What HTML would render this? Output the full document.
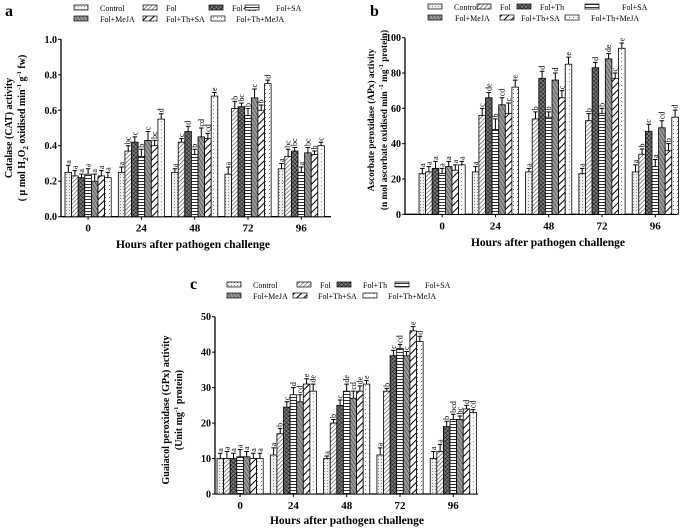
<!DOCTYPE html>
<html><head><meta charset="utf-8">
<style>
body{margin:0;background:#fff;width:685px;height:529px;overflow:hidden}
svg{display:block}
text{font-family:"Liberation Serif","DejaVu Serif",serif}
</style></head>
<body>
<svg id="fig" width="685" height="529" viewBox="0 0 685 529">
<defs>
<pattern id="p0" width="3" height="3" patternUnits="userSpaceOnUse"><rect width="3" height="3" fill="#eee"/><rect x="0" y="0" width="1" height="1" fill="#888"/></pattern>
<pattern id="p1" width="3" height="3" patternUnits="userSpaceOnUse" patternTransform="rotate(45)"><rect width="3" height="3" fill="#fff"/><line x1="0" y1="0" x2="0" y2="3" stroke="#444" stroke-width="1.2"/></pattern>
<pattern id="p2" width="3" height="3" patternUnits="userSpaceOnUse" patternTransform="rotate(45)"><rect width="3" height="3" fill="#777"/><line x1="0" y1="0" x2="0" y2="3" stroke="#111" stroke-width="1"/><line x1="0" y1="0" x2="3" y2="0" stroke="#111" stroke-width="1"/></pattern>
<pattern id="p3" width="3" height="3" patternUnits="userSpaceOnUse"><rect width="3" height="3" fill="#fff"/><line x1="0" y1="1.5" x2="3" y2="1.5" stroke="#333" stroke-width="1"/></pattern>
<pattern id="p4" width="3" height="3" patternUnits="userSpaceOnUse" patternTransform="rotate(-30)"><rect width="3" height="3" fill="#999"/><line x1="0" y1="0" x2="0" y2="3" stroke="#333" stroke-width="1"/></pattern>
<pattern id="p5" width="5" height="5" patternUnits="userSpaceOnUse" patternTransform="rotate(45)"><rect width="5" height="5" fill="#fff"/><line x1="0" y1="0" x2="0" y2="5" stroke="#000" stroke-width="2"/></pattern>
<pattern id="p6" width="4" height="4" patternUnits="userSpaceOnUse"><rect width="4" height="4" fill="#fff"/><rect x="1" y="1" width="1" height="1" fill="#777"/></pattern>
</defs>
</svg>
<script>
const groups = ["0","24","48","72","96"];
const seriesNames = ["Control","Fol","Fol+Th","Fol+SA","Fol+MeJA","Fol+Th+SA","Fol+Th+MeJA"];
// panel a values [group][series]
const catValues = [[0.25,0.23,0.22,0.24,0.20,0.23,0.22],[0.25,0.37,0.42,0.34,0.43,0.40,0.55],[0.25,0.42,0.48,0.35,0.45,0.44,0.68],[0.24,0.61,0.62,0.57,0.67,0.60,0.75],[0.27,0.34,0.37,0.25,0.36,0.35,0.40]];
const catErrors = [[0.04,0.03,0.02,0.03,0.04,0.03,0.03],[0.03,0.03,0.03,0.04,0.05,0.03,0.03],[0.02,0.02,0.03,0.03,0.05,0.03,0.02],[0.04,0.04,0.02,0.04,0.05,0.03,0.02],[0.03,0.04,0.02,0.03,0.03,0.02,0.02]];
const catLetters = [["a","a","a","a","a","a","a"],["a","bc","c","b","c","bc","d"],["a","c","d","b","cd","cd","e"],["a","b","bc","b","c","b","d"],["a","bc","bc","a","bc","b","c"]];
const catTicks = ["0.0","0.2","0.4","0.6","0.8","1.0"];
// panel b
const apxValues = [[23,24,26,23,27,25,28],[24,56,66,48,62,57,72],[24,54,77,55,76,66,85],[23,53,83,57,88,77,94],[24,34,47,27,49,36,55]];
const apxErrors = [[3,3,4,3,3,3,2],[3,4,3,6,4,6,4],[2,4,4,3,4,4,4],[3,4,3,3,3,3,3],[4,3,4,4,4,4,4]];
const apxLetters = [["a","a","a","a","a","a","a"],["a","c","de","b","cd","c","e"],["a","b","d","b","d","c","e"],["a","b","d","b","de","c","e"],["a","b","c","a","cd","b","d"]];
const apxTicks = ["0","20","40","60","80","100"];
// panel c
const gpxValues = [[10,10,10,10.5,10.5,10,10],[11,17,24.5,28,26,31,29],[10,20,25,29,27,29,31],[11,29,39,41,39,46,43],[10,12,19,21,21,24,23]];
const gpxErrors = [[1.5,2,1.5,2,1.5,1.5,1.5],[2,1.5,1.5,2,2,1.5,2],[0.7,1,1.5,2,2,1.5,1],[2,0.8,1.5,1.2,1.2,1.2,1.5],[2,2,1.5,1.5,1,1,0.8]];
const gpxLetters = [["a","a","a","a","a","a","a"],["a","b","c","d","cd","e","de"],["a","b","c","de","cd","de","e"],["a","b","c","cd","c","e","d"],["a","a","b","bcd","bc","d","cd"]];
const gpxTicks = ["0","10","20","30","40","50"];

const NS="http://www.w3.org/2000/svg";
const svg=document.getElementById('fig');
function mk(tag,attrs,parent,txt){const e=document.createElementNS(NS,tag);for(const k in attrs)e.setAttribute(k,attrs[k]);if(txt!==undefined)e.textContent=txt;(parent||svg).appendChild(e);return e;}

function panel(cfg,values,errors,letters,ticks){
  const g=mk('g',{});
  
  
  const ymax=parseFloat(ticks[ticks.length-1]);
  const yS=v=>cfg.y0-(v/ymax)*(cfg.y0-cfg.yTop);
  const bw=6.6;
  const xS=(gi,si)=>cfg.gx0+gi*cfg.gstep+si*bw;
  const ya=mk('line',{x1:cfg.ax,y1:cfg.yTop,x2:cfg.ax,y2:cfg.y0,stroke:'#000','stroke-width':1.3},g);
  
  const xa=mk('line',{x1:cfg.ax,y1:cfg.y0,x2:cfg.axEnd,y2:cfg.y0,stroke:'#000','stroke-width':1.3},g);
  
  ticks.forEach(t=>{const y=yS(parseFloat(t));
    mk('line',{x1:cfg.ax-3,y1:y,x2:cfg.ax,y2:y,stroke:'#000'},g);
    const tl=mk('text',{x:cfg.ax-4,y:y+3.5,'text-anchor':'end','font-size':10,'font-weight':'bold'},g,t);
    
  });
  groups.forEach((gl,gi)=>{
    const cx=xS(gi,0)+bw*3.5;
    mk('line',{x1:cx,y1:cfg.y0,x2:cx,y2:cfg.y0+3,stroke:'#000'},g);
    const t=mk('text',{x:cx,y:cfg.y0+15,'text-anchor':'middle','font-size':11,'font-weight':'bold'},g,gl);
    
    values[gi].forEach((v,si)=>{
      const x=xS(gi,si),y=yS(v);
      const r=mk('rect',{x:x,y:y,width:bw,height:cfg.y0-y,fill:'url(#p'+si+')',stroke:'#000','stroke-width':0.8},g);
      
      const ye=yS(v+errors[gi][si]);
      const eb=mk('path',{d:`M${x+bw/2},${y}V${ye}M${x+1},${ye}H${x+bw-1}`,stroke:'#000','stroke-width':1,fill:'none'},g);
      
      const lx=x+bw/2+2.5,ly=ye-1.5;
      const lt=mk('text',{x:lx,y:ly,'font-size':8,transform:`rotate(-90 ${lx} ${ly})`},g,letters[gi][si]);
      
    });
  });
  const xt=mk('text',{x:cfg.titleX,y:cfg.titleY,'text-anchor':'middle','font-size':11.5,'font-weight':'bold'},g,'Hours after pathogen challenge');
  
  cfg.ylab.forEach((l,i)=>{const x=cfg.ylabX[i],y=cfg.ylabY;
    const t=mk('text',{x:x,y:y,'text-anchor':'middle','font-size':cfg.ylabFs,'font-weight':'bold',transform:`rotate(-90 ${x} ${y})`},g);
    t.innerHTML=l;
    
  });
  const pl=mk('text',{x:cfg.letterX,y:cfg.letterY,'font-size':16,'font-weight':'bold'},g,cfg.letter);
  
  cfg.legend.forEach((p,si)=>{
    const sw=mk('rect',{x:p[0],y:p[1]-6,width:14,height:5,fill:'url(#p'+si+')',stroke:'#000','stroke-width':0.7},g);
    
    const t=mk('text',{x:p[2],y:p[1],'font-size':8},g,seriesNames[si]);
    
  });
}

panel({name:'panel-a-catalase',ax:61,axEnd:331,yTop:39.3,y0:216.7,gx0:65,gstep:53.3,titleX:193,titleY:248,ylabFs:10,
  ylab:['Catalase (CAT) activity','( μ mol H<tspan font-size="7" dy="3">2</tspan><tspan dy="-3">O</tspan><tspan font-size="7" dy="3">2</tspan><tspan dy="-3"> oxidised min</tspan><tspan font-size="6.5" dy="-4">-1</tspan><tspan dy="4"> g</tspan><tspan font-size="6.5" dy="-4">-1</tspan><tspan dy="4"> fw)</tspan>'],
  ylabX:[12,25],ylabY:128,letter:'a',letterX:5,letterY:16,
  legend:[[74,11,100],[143,11,166],[209,11,232],[245,11,276],[74,22,100],[143,22,166],[211,22,236]]},
  catValues,catErrors,catLetters,catTicks);

panel({name:'panel-b-apx',ax:405,axEnd:677,yTop:37.7,y0:214.3,gx0:419,gstep:53.3,titleX:548,titleY:246,ylabFs:9.3,
  ylab:['Ascorbate peroxidase (APx) activity','(n mol ascorbate oxidised min<tspan font-size="6.5" dy="-4"> -1</tspan><tspan dy="4"> mg</tspan><tspan font-size="6.5" dy="-4">-1</tspan><tspan dy="4"> protein)</tspan>'],
  ylabX:[374,387],ylabY:120,letter:'b',letterX:370,letterY:16,
  legend:[[428,10,454],[477,10,500],[517,10,540],[585,10,622],[428,21,455],[500,21,521],[565,21,591]]},
  apxValues,apxErrors,apxLetters,apxTicks);

panel({name:'panel-c-gpx',ax:215,axEnd:478,yTop:316.7,y0:494,gx0:217,gstep:53.3,titleX:347,titleY:524,ylabFs:10,
  ylab:['Guaiacol peroxidase (GPx) activity','(Unit mg<tspan font-size="6.5" dy="-4">-1</tspan><tspan dy="4"> protein)</tspan>'],
  ylabX:[169,182],ylabY:410,letter:'c',letterX:190,letterY:289,
  legend:[[227,288,253],[297,288,320],[337,288,363],[395,288,425],[227,299,253],[293,299,318],[363,299,388]]},
  gpxValues,gpxErrors,gpxLetters,gpxTicks);
</script>
</body></html>
